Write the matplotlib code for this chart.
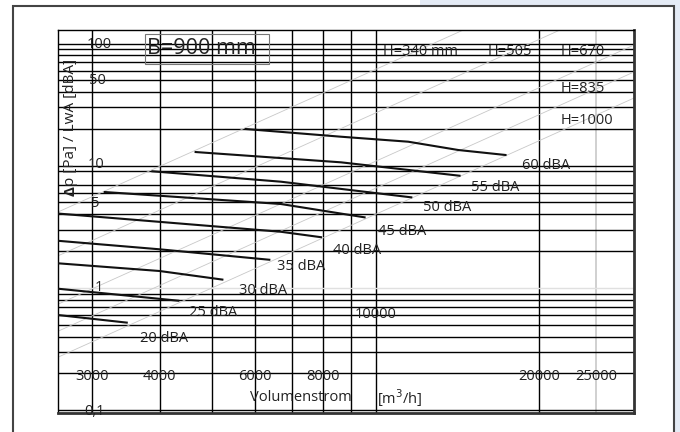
import matplotlib
matplotlib.use('Agg')
import matplotlib.pyplot as plt
from matplotlib.patches import Rectangle

plt.rcParams['font.family'] = ['Open Sans', 'DejaVu Sans']

# Raster (Volumenstrom / Druckverlust)
raster_x = [3000, 4000, 5000, 6000, 7000, 8000, 9000, 10000, 20000]
raster_x_grau = [25500]
raster_y = [0.1, 0.2, 0.3, 0.4, 0.5, 0.6, 0.7, 0.8, 0.9,
            2, 3, 4, 5, 6, 7, 9, 10,
            20, 30, 40, 50, 60, 70, 80, 90, 100]
raster_y_grau = [1]

# Achsbeschriftungen im Diagramm
x_ticks = ['3000', '4000', '6000', '8000', '10000', '20000', '25000']
x_ticks_q = [3000, 4000, 6000, 8000, 10000, 20000, 25500]
x_ticks_dp = [0.19, 0.19, 0.19, 0.19, 0.61, 0.19, 0.19]
y_ticks = ['100', '50', '10', '5', '1', '0,1']
y_ticks_q = [2930, 2960, 2950, 2990, 3040, 2900]
y_ticks_dp = [98, 50, 10.2, 4.9, 1.0, 0.098]

# Schallpegel-Kurven (dBA)
pegel = ['20 dBA', '25 dBA', '30 dBA', '35 dBA', '40 dBA', '45 dBA', '50 dBA', '55 dBA', '60 dBA']
kurven_q = [
    [2600, 3480],
    [2600, 4330],
    [2600, 4000, 5220],
    [2600, 4000, 6370],
    [2600, 6690, 7930],
    [3170, 6690, 9540],
    [3880, 6690, 11630],
    [4660, 8630, 14270],
    [5760, 8630, 11480, 14200, 17340],
]
kurven_dp = [
    [0.60, 0.52],
    [0.985, 0.786],
    [1.59, 1.375, 1.17],
    [2.43, 2.07, 1.70],
    [4.06, 2.88, 2.60],
    [6.09, 4.86, 3.78],
    [9.00, 7.40, 5.51],
    [12.94, 10.66, 8.28],
    [19.97, 17.27, 15.72, 13.44, 12.24],
]
pegel_q = [3680, 4530, 5600, 6590, 8330, 10090, 12210, 15000, 18560]
pegel_dp = [0.385, 0.627, 0.96, 1.49, 2.04, 2.92, 4.51, 6.66, 10.1]

# Kanalhoehen H (duenne Hilfslinien)
h_namen = ['H=340 mm', 'H=505', 'H=670', 'H=835', 'H=1000']
h_text_q = [10300, 16100, 21900, 21900, 21900]
h_text_dp = [85.7, 85.7, 85.7, 43, 23.3]
h_linie_q = [[2600, 14500], [2600, 21850], [2600, 29900], [2600, 29900], [2600, 29900]]
h_linie_dp = [[4.18, 129], [1.83, 129], [0.736, 97.2], [0.442, 58.5], [0.271, 35.8]]

W, H = 680, 432
fs = 10.5
fig = plt.figure(figsize=(6.8, 4.32), dpi=100)
ax = fig.add_axes([58 / W, 1 - 413 / H, 576 / W, 383 / H])
ax.set_xscale('log')
ax.set_yscale('log')
ax.set_xlim(2600, 29900)
ax.set_ylim(0.0947, 129)
ax.set_xticks([])
ax.set_yticks([])
ax.minorticks_off()

for q in raster_x:
    ax.axvline(q, color='black', lw=1.0, zorder=1)
for q in raster_x_grau:
    ax.axvline(q, color='#c8c8c8', lw=1.2, zorder=1)
for dp in raster_y:
    ax.axhline(dp, color='black', lw=1.0, zorder=1)
for dp in raster_y_grau:
    ax.axhline(dp, color='#e0e0e0', lw=1.0, zorder=1)

for q, dp in zip(h_linie_q, h_linie_dp):
    ax.plot(q, dp, color='#c8c8c8', lw=0.6, zorder=1.5)

for q, dp in zip(kurven_q, kurven_dp):
    ax.plot(q, dp, color='#111111', lw=1.5, zorder=3)

for txt, q, dp in zip(pegel, pegel_q, pegel_dp):
    ax.text(q, dp, txt, fontsize=fs, color='#222222', va='center', ha='left', zorder=4)

for txt, q, dp in zip(h_namen, h_text_q, h_text_dp):
    ax.text(q, dp, txt, fontsize=fs, color='#222222', va='center', ha='left', zorder=4)

for txt, q, dp in zip(x_ticks, x_ticks_q, x_ticks_dp):
    ax.text(q, dp, txt, fontsize=fs, color='#222222', va='center', ha='center', zorder=4)
for txt, q, dp in zip(y_ticks, y_ticks_q, y_ticks_dp):
    ax.text(q, dp, txt, fontsize=fs, color='#222222', va='center', ha='left', zorder=4)

ax.text(5865, 0.126, 'Volumenstrom', fontsize=fs, color='#222222', va='center', ha='left')
ax.text(10050, 0.126, '[m$^3$/h]', fontsize=fs, color='#222222', va='center', ha='left')

# B-Kasten (durchsichtig, Raster bleibt sichtbar)
fig.add_artist(Rectangle((145.3 / W, 1 - 64 / H), 124 / W, 29.7 / H, transform=fig.transFigure,
                         fc='none', ec='#777777', lw=0.8, zorder=5))
fig.text(147 / W, 1 - 49 / H, 'B=900 mm', fontsize=15.5, color='#222222',
         va='center', ha='left', zorder=6)

# Achsentitel y
fig.text(71 / W, 1 - 186 / H, 'p [Pa] / LwA [dBA]', rotation=90, fontsize=11,
         color='#222222', ha='center', va='bottom')
fig.text(71 / W, 1 - 186 / H, '\u0394', rotation=90, fontsize=11, fontweight='bold',
         color='#222222', ha='center', va='top')

for s in ['left', 'top']:
    ax.spines[s].set_linewidth(1.0)
    ax.spines[s].set_color('black')
for s in ['right', 'bottom']:
    ax.spines[s].set_linewidth(2.0)
    ax.spines[s].set_color('#333333')

# aeusserer Rahmen
fig.add_artist(Rectangle((0, 0), 1, 1, transform=fig.transFigure, fc='#e4ebf5', ec='none', zorder=-3))
fig.add_artist(Rectangle((12.7 / W, -0.05), (674.3 - 12.7) / W, (1 - 6 / H) + 0.05,
                         transform=fig.transFigure, fc='white', ec='#444444', lw=1.5, zorder=-2))
fig.add_artist(Rectangle((0, 0), 11.5 / W, 1, transform=fig.transFigure, fc='white', ec='none', zorder=-2.5))
fig.add_artist(Rectangle((0, 1 - 5 / H), 420 / W, 5 / H, transform=fig.transFigure, fc='white', ec='none', zorder=-2.5))

fig.savefig('out.png', dpi=100)
plt.close()
